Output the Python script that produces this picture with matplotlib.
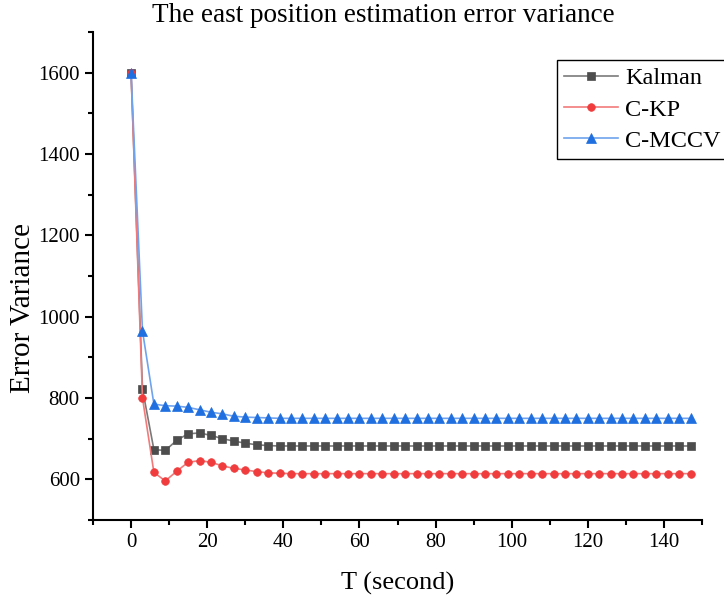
import numpy as np
import matplotlib
matplotlib.use("Agg")
import matplotlib.pyplot as plt
from matplotlib.ticker import MultipleLocator

T = list(range(0, 150, 3))  # 0..147, 50 points

kalman_head = [1600, 822, 673, 671, 696, 712, 714, 708, 700, 694, 689, 685, 683]
ckp_head = [1600, 800, 617, 596, 620, 642, 646, 642, 633, 627, 623, 619, 616, 615]
cmccv_head = [1600, 965, 785, 781, 780, 777, 771, 765, 761, 755, 753, 752, 751]

kalman_tail = 682
ckp_tail = 614
cmccv_tail = 750

kalman = kalman_head + [kalman_tail] * (len(T) - len(kalman_head))
ckp = ckp_head + [ckp_tail] * (len(T) - len(ckp_head))
cmccv = cmccv_head + [cmccv_tail] * (len(T) - len(cmccv_head))

plt.rcParams['font.family'] = ['Liberation Serif', 'DejaVu Serif']

fig = plt.figure(figsize=(7.24, 6.01), dpi=100)
ax = fig.add_axes([93/724, 1-520/601, (702-93)/724, (520-32)/601])

series = [
    (kalman, 'Kalman', 's', '#4d4d4d', '#7a7a7a'),
    (ckp, 'C-KP', 'o', '#f03c3c', '#f27a7a'),
    (cmccv, 'C-MCCV', '^', '#1f6fe0', '#6fa3ee'),
]
for ys, lab, mk, mc, lc in series:
    ax.plot(T, ys, color=lc, lw=1.2, marker=mk, markersize=5.5 if mk != '^' else 6.5,
            markerfacecolor=mc, markeredgecolor=mc, markeredgewidth=0.5, label=lab)

ax.set_xlim(-10, 150)
ax.set_ylim(500, 1700)
ax.xaxis.set_major_locator(MultipleLocator(20))
ax.xaxis.set_minor_locator(MultipleLocator(10))
ax.yaxis.set_major_locator(MultipleLocator(200))
ax.yaxis.set_minor_locator(MultipleLocator(100))
ax.spines['top'].set_visible(False)
ax.spines['right'].set_visible(False)
ax.spines['left'].set_linewidth(1.5)
ax.spines['bottom'].set_linewidth(1.5)
ax.tick_params(which='major', direction='out', length=6, width=1.5, labelsize=15)
ax.tick_params(which='minor', direction='out', length=3.5, width=1.5)

fig.text(383/724, 1-16/601, 'The east position estimation error variance', fontsize=19.5,
         ha='center', va='center')
ax.set_xlabel('T (second)', fontsize=19, labelpad=14)
fig.text(23/724, 1-308/601, 'Error Variance', fontsize=21, rotation=90,
         ha='center', va='center')

leg = fig.legend(loc='upper left', bbox_to_anchor=(557/724, 1-60/601), fontsize=17.5,
                 frameon=True, fancybox=False, edgecolor='black', framealpha=1,
                 handlelength=2.2, labelspacing=0.38, borderpad=0.3, handletextpad=0.3,
                 borderaxespad=0)
leg.get_frame().set_linewidth(1.0)

fig.savefig('out.png', dpi=100)
